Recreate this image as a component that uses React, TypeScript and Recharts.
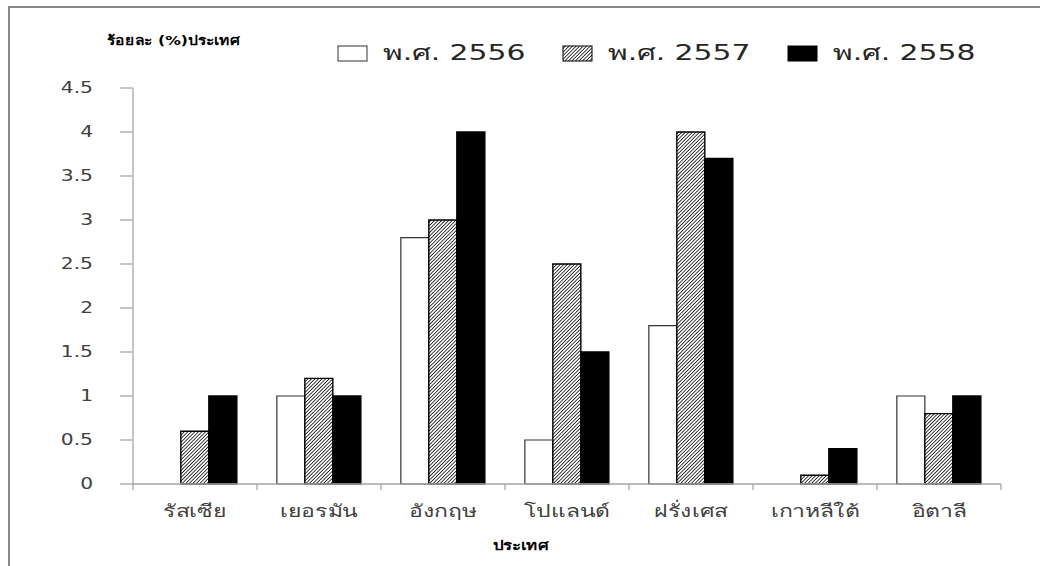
import React from 'react';
import { BarChart, Bar, XAxis, YAxis, Legend } from 'recharts';

// Share (%) by country, three Buddhist-era years
const categories = ['รัสเซีย', 'เยอรมัน', 'อังกฤษ', 'โปแลนด์', 'ฝรั่งเศส', 'เกาหลีใต้', 'อิตาลี'];
const values2556 = [0, 1, 2.8, 0.5, 1.8, 0, 1];
const values2557 = [0.6, 1.2, 3, 2.5, 4, 0.1, 0.8];
const values2558 = [1, 1, 4, 1.5, 3.7, 0.4, 1];
const seriesNames = ['พ.ศ. 2556', 'พ.ศ. 2557', 'พ.ศ. 2558'];
const yTicks = [0, 0.5, 1, 1.5, 2, 2.5, 3, 3.5, 4, 4.5];
const yTitle = 'ร้อยละ (%)ประเทศ';
const xTitle = 'ประเทศ';

const data = categories.map((name, i) => ({
  name,
  y2556: values2556[i],
  y2557: values2557[i],
  y2558: values2558[i],
}));

const FONT = '"DejaVu Sans", Tahoma, Verdana, sans-serif';
const STRETCH = 1.35;
const AXIS_GREY = '#a6a6a6';
const FRAME_GREY = '#888888';

const fills = ['#ffffff', 'url(#hatch2557)', '#000000'];
const strokes = ['#333333', '#000000', '#000000'];

const YTick = (props: any) => {
  const { x, y, payload } = props;
  return (
    <text
      transform={`translate(${x},${y}) scale(${STRETCH},1)`}
      textAnchor="end"
      dominantBaseline="central"
      fontFamily={FONT}
      fontSize={15}
      fill="#404040"
    >
      {String(payload.value)}
    </text>
  );
};

const XTick = (props: any) => {
  const { x, y, payload } = props;
  const half = payload.offset ?? 62;
  const isLast = payload.index === categories.length - 1;
  return (
    <g>
      <line x1={x - half} x2={x - half} y1={y} y2={y + 6} stroke={AXIS_GREY} strokeWidth={1.3} />
      {isLast && (
        <line x1={x + half} x2={x + half} y1={y} y2={y + 6} stroke={AXIS_GREY} strokeWidth={1.3} />
      )}
      <text
        transform={`translate(${x},${y + 27}) scale(${STRETCH},1)`}
        textAnchor="middle"
        dominantBaseline="central"
        fontFamily={FONT}
        fontSize={17}
        fill="#404040"
      >
        {payload.value}
      </text>
    </g>
  );
};

const LegendContent = () => (
  <svg width={700} height={40} style={{ display: 'block' }}>
    {seriesNames.map((name, i) => {
      const left = 8 + i * 225;
      return (
        <g key={name}>
          <rect x={left} y={16} width={29} height={15} fill={fills[i]} stroke={strokes[i]} strokeWidth={1} />
          <text
            transform={`translate(${left + 45},${23}) scale(1.42,1)`}
            dominantBaseline="central"
            fontFamily={FONT}
            fontSize={21}
            fill="#262626"
          >
            {name}
          </text>
        </g>
      );
    })}
  </svg>
);

export default function App() {
  return (
    <div
      style={{
        position: 'absolute',
        left: 8,
        top: 6,
        width: 1032,
        height: 560,
        background: '#ffffff',
      }}
    >
      {/* outer frame: top rule and left rule */}
      <svg
        width={1032}
        height={560}
        style={{ position: 'absolute', left: 0, top: 0, zIndex: 3, pointerEvents: 'none' }}
      >
        <rect x={0} y={0} width={1032} height={2} fill={FRAME_GREY} />
        <rect x={0} y={0} width={2} height={560} fill={FRAME_GREY} />
      </svg>

      <svg width={0} height={0} style={{ position: 'absolute' }}>
        <defs>
          <pattern
            id="hatch2557"
            width={2.5}
            height={2.5}
            patternUnits="userSpaceOnUse"
            patternTransform="rotate(45)"
          >
            <rect width={2.5} height={2.5} fill="#ffffff" />
            <line x1={0} y1={0} x2={0} y2={2.5} stroke="#000000" strokeWidth={1.5} />
          </pattern>
        </defs>
      </svg>

      <div
        style={{
          position: 'absolute',
          left: 99,
          top: 24,
          fontFamily: FONT,
          fontWeight: 'bold',
          fontSize: 13,
          color: '#000',
          whiteSpace: 'nowrap',
          transform: 'scaleX(1.2)',
          transformOrigin: 'left center',
          zIndex: 2,
        }}
      >
        {yTitle}
      </div>

      <div
        style={{
          position: 'absolute',
          left: 2,
          width: 1030,
          top: 529,
          textAlign: 'center',
          fontFamily: FONT,
          fontWeight: 'bold',
          fontSize: 13,
          color: '#000',
          zIndex: 2,
        }}
      >
        <span
          style={{
            display: 'inline-block',
            marginLeft: -10,
            transform: 'scaleX(1.3)',
          }}
        >
          {xTitle}
        </span>
      </div>

      <div style={{ position: 'absolute', left: 2, top: 2 }}>
        <BarChart
          width={1030}
          height={550}
          data={data}
          margin={{ top: 80, right: 39, left: 0, bottom: 34 }}
          barCategoryGap="16%"
          barGap={0}
        >
          <XAxis
            dataKey="name"
            height={40}
            axisLine={{ stroke: AXIS_GREY, strokeWidth: 1.3 }}
            tickLine={false}
            tickSize={0}
            tickMargin={0}
            interval={0}
            tick={<XTick />}
          />
          <YAxis
            width={123}
            domain={[0, 4.5]}
            ticks={yTicks}
            interval={0}
            axisLine={{ stroke: AXIS_GREY, strokeWidth: 1.3 }}
            tickLine={{ stroke: AXIS_GREY, strokeWidth: 1.3 }}
            tickSize={13}
            tickMargin={27}
            tick={<YTick />}
          />
          <Legend
            layout="horizontal"
            verticalAlign="middle"
            align="center"
            content={<LegendContent />}
            wrapperStyle={{ position: 'absolute', left: 320, top: 22, width: 700, height: 40 }}
          />
          <Bar dataKey="y2556" name={seriesNames[0]} fill={fills[0]} stroke={strokes[0]} strokeWidth={1.2} isAnimationActive={false} />
          <Bar dataKey="y2557" name={seriesNames[1]} fill={fills[1]} stroke={strokes[1]} strokeWidth={1.4} isAnimationActive={false} />
          <Bar dataKey="y2558" name={seriesNames[2]} fill={fills[2]} stroke={strokes[2]} strokeWidth={1.4} isAnimationActive={false} />
        </BarChart>
      </div>
    </div>
  );
}
